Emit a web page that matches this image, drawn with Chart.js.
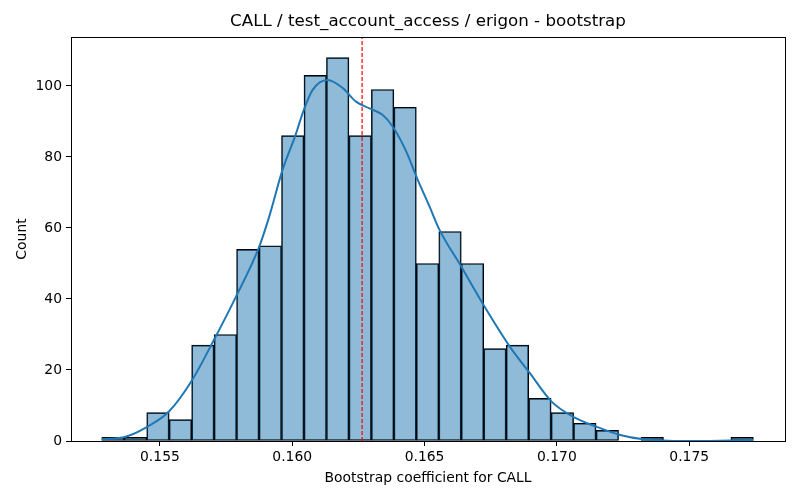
<!DOCTYPE html>
<html>
<head>
<meta charset="utf-8">
<script src="https://cdn.jsdelivr.net/npm/chart.js@4.4.1/dist/chart.umd.min.js"></script>
<style>
  html, body { margin: 0; padding: 0; background: #fff; }
  #wrap { width: 800px; height: 500px; }
</style>
</head>
<body>
<div id="wrap"><canvas id="chart"></canvas></div>
<script>
// --- histogram data ---
const binStart = 0.152803;
const binWidth = 0.000849;
const counts = [1, 1, 8, 6, 27, 30, 54, 55, 86, 103, 108, 86, 99, 94, 50, 59, 50, 26, 27, 12, 8, 5, 3, 0, 1, 0, 0, 0, 1];

// KDE curve samples
const kdeX = [0.15280, 0.15370, 0.15452, 0.15534, 0.15622, 0.15698, 0.15787, 0.15875, 0.15913, 0.15963,
              0.16014, 0.16039, 0.16077, 0.16134, 0.16191, 0.16241, 0.16292, 0.16342, 0.16380, 0.16431,
              0.16469, 0.16519, 0.16557, 0.16639, 0.16727, 0.16822, 0.16898, 0.16980, 0.17062, 0.17150,
              0.17239, 0.17327, 0.17491, 0.17617, 0.17742];
const kdeY = [0.5, 1.2, 4.0, 8.3, 17.2, 27.6, 40.6, 54.7, 63.2, 76.3,
              86.5, 92.3, 98.9, 101.7, 99.4, 95.6, 93.7, 91.8, 88.5, 81.5,
              74.5, 66.0, 59.4, 49.1, 37.8, 26.6, 19.1, 11.1, 6.8, 4.0,
              1.7, 0.5, 0.0, 0.1, 0.3];

const meanValue = 0.16264;
const xTicks = [0.155, 0.160, 0.165, 0.170, 0.175];
const yTicks = [0, 20, 40, 60, 80, 100];
const xRange = [0.15164, 0.17862];
const yRange = [0, 113.8];
const titleText = 'CALL / test_account_access / erigon - bootstrap';

const barData = counts.map((c, i) => ({ x: binStart + binWidth * (i + 0.5), y: c }));
const kdeData = kdeX.map((x, i) => ({ x: x, y: kdeY[i] }));

Chart.defaults.font.family = "'DejaVu Sans', sans-serif";
Chart.defaults.color = '#000';

// spines box + title centred over the plot area (matplotlib style)
const frame = {
    id: 'frame',
    afterDatasetsDraw(chart) {
        const { ctx, chartArea: a } = chart;
        ctx.save();
        ctx.strokeStyle = '#000';
        ctx.lineWidth = 1;
        ctx.strokeRect(Math.round(a.left) + 0.5, Math.round(a.top) + 0.5,
                       Math.round(a.right - a.left), Math.round(a.bottom - a.top));
        ctx.fillStyle = '#000';
        ctx.font = "16.7px 'DejaVu Sans', sans-serif";
        ctx.textAlign = 'center';
        ctx.textBaseline = 'middle';
        ctx.fillText(titleText, (a.left + a.right) / 2, 22);
        ctx.restore();
    }
};

new Chart(document.getElementById('chart'), {
    type: 'bar',
    data: {
        datasets: [
            {
                type: 'line',
                data: kdeData,
                borderColor: '#1f77b4',
                borderWidth: 2,
                pointRadius: 0,
                cubicInterpolationMode: 'monotone',
                order: 0
            },
            {
                type: 'line',
                data: [{ x: meanValue, y: yRange[0] }, { x: meanValue, y: yRange[1] }],
                borderColor: '#ff0000',
                borderWidth: 1.2,
                borderDash: [4, 2],
                pointRadius: 0,
                order: 0
            },
            {
                type: 'bar',
                data: barData,
                backgroundColor: 'rgba(31,119,180,0.5)',
                borderColor: '#000',
                borderWidth: 1,
                borderSkipped: false,
                barPercentage: 1,
                categoryPercentage: 1,
                grouped: false,
                order: 1
            }
        ]
    },
    options: {
        responsive: true,
        maintainAspectRatio: false,
        animation: false,
        layout: { padding: { left: 14, right: 15, top: 37, bottom: 13 } },
        plugins: {
            legend: { display: false },
            tooltip: { enabled: false },
            title: { display: false }
        },
        scales: {
            x: {
                type: 'linear',
                min: xRange[0],
                max: xRange[1],
                offset: false,
                afterBuildTicks: s => { s.ticks = xTicks.map(v => ({ value: v })); },
                afterFit: s => { s.height = 46; },
                ticks: { font: { size: 13.9 }, padding: 3, maxRotation: 0,
                         callback: v => v.toFixed(3) },
                grid: { offset: false, drawOnChartArea: false, drawTicks: true, tickLength: 5, color: '#000' },
                border: { display: true, color: '#000' },
                title: { display: true, text: 'Bootstrap coefficient for CALL', font: { size: 13.9 }, padding: { top: 2, bottom: 0 } }
            },
            y: {
                min: yRange[0],
                max: yRange[1],
                afterBuildTicks: s => { s.ticks = yTicks.map(v => ({ value: v })); },
                afterFit: s => { s.width = 57; },
                ticks: { font: { size: 13.9 }, padding: 4 },
                grid: { drawOnChartArea: false, drawTicks: true, tickLength: 5, color: '#000' },
                border: { display: true, color: '#000' },
                title: { display: true, text: 'Count', font: { size: 13.9 }, padding: { top: 0, bottom: 6 } }
            }
        }
    },
    plugins: [frame]
});
</script>
</body>
</html>
